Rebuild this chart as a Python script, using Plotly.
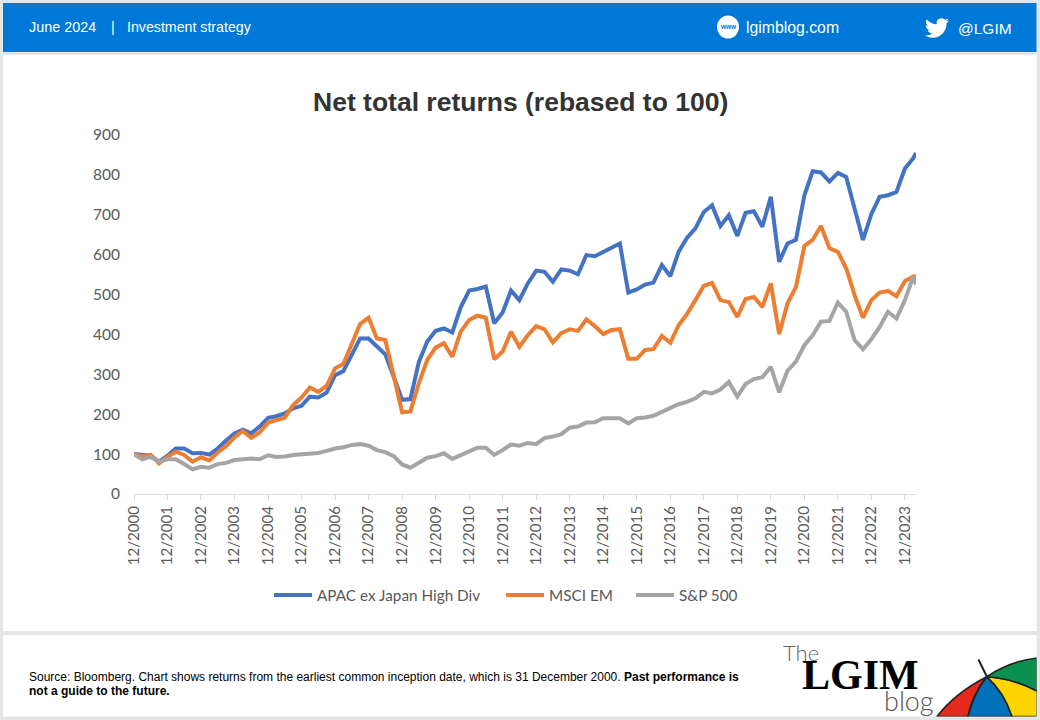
import base64
import plotly.graph_objects as go

W, H = 1040, 720

# Quarterly closes, 12/2000 onward, plus a final partial month
quarters = [f"{y}-{m}" for y in range(2000, 2024) for m in ("03-31", "06-30", "09-30", "12-31")][3:]
dates = quarters + ["2024-03-31", "2024-04-30"]

apac_high_div = [100, 98, 96, 81, 96, 114, 114, 102, 103, 99, 114, 134, 152, 161, 152, 169, 191, 195, 202, 215,
                 221, 244, 242, 254, 298, 308, 348, 390, 390, 369, 350, 294, 236, 238, 330, 382, 409, 415, 405, 468,
                 510, 514, 520, 428, 455, 510, 486, 528, 560, 557, 532, 563, 560, 551, 599, 596, 607, 617, 628, 505,
                 513, 525, 530, 574, 546, 607, 642, 666, 707, 724, 672, 699, 647, 705, 709, 670, 745, 582, 628, 637,
                 749, 809, 806, 783, 805, 795, 716, 637, 702, 745, 749, 757, 816, 842, 855]
msci_em = [100, 95, 98, 77, 93, 106, 98, 81, 92, 84, 104, 120, 142, 158, 141, 154, 179, 184, 191, 223,
           242, 267, 256, 271, 315, 326, 378, 426, 442, 390, 386, 298, 205, 207, 277, 336, 367, 378, 344, 407,
           436, 447, 442, 338, 357, 407, 369, 398, 421, 413, 380, 403, 413, 409, 438, 421, 401, 411, 413, 339,
           339, 361, 363, 396, 379, 423, 451, 486, 522, 529, 486, 481, 444, 489, 494, 469, 528, 401, 478, 519,
           622, 637, 672, 616, 607, 566, 499, 442, 486, 505, 509, 496, 534, 545, 547]
sp500 = [100, 87, 93, 81, 87, 87, 75, 62, 68, 66, 75, 78, 85, 88, 89, 87, 97, 93, 94, 98,
         100, 103, 103, 108, 114, 117, 123, 125, 121, 110, 105, 95, 74, 66, 78, 91, 95, 102, 88, 98,
         108, 116, 116, 98, 110, 124, 121, 128, 125, 140, 144, 150, 166, 169, 179, 180, 190, 190, 190, 177,
         190, 192, 196, 206, 215, 225, 231, 240, 256, 252, 262, 281, 244, 276, 288, 293, 319, 255, 309, 332,
         373, 398, 432, 434, 480, 457, 386, 363, 388, 419, 457, 440, 486, 545, 525]

series_names = ["APAC ex Japan High Div", "MSCI EM", "S&P 500"]
series_colors = ["#4472C4", "#ED7D31", "#A5A5A5"]
y_ticks = [0, 100, 200, 300, 400, 500, 600, 700, 800, 900]


def px_x(x):
    return x / W


def px_y(y):
    return 1 - y / H


fig = go.Figure()
legend_ids = ["legend", "legend2", "legend3"]
for name, values, color, lid in zip(series_names, [apac_high_div, msci_em, sp500], series_colors, legend_ids):
    fig.add_trace(go.Scatter(x=dates, y=values, name=name, mode="lines", legend=lid,
                             line=dict(color=color, width=4, shape="linear")))


def panel(x0, y0, x1, y1, color):
    return dict(type="rect", xref="paper", yref="paper", x0=px_x(x0), x1=px_x(x1), y0=px_y(y0), y1=px_y(y1),
                fillcolor=color, line_width=0, layer="below")


shapes = [
    panel(3, 3, 1036.5, 52, "#0078D7"),
    panel(3, 55, 1036.5, 631, "#FFFFFF"),
    panel(3, 635, 1036.5, 716.5, "#FFFFFF"),
    dict(type="circle", xref="paper", yref="paper", x0=px_x(717), x1=px_x(739), y0=px_y(38.5), y1=px_y(15.5),
         fillcolor="#FFFFFF", line_width=0, layer="above"),
]

bird = ("M23.953 4.57a10 10 0 01-2.825.775 4.958 4.958 0 002.163-2.723c-.951.555-2.005.959-3.127 1.184"
        "a4.92 4.92 0 00-8.384 4.482C7.69 8.095 4.067 6.13 1.64 3.162a4.822 4.822 0 00-.666 2.475"
        "c0 1.71.87 3.213 2.188 4.096a4.904 4.904 0 01-2.228-.616v.06a4.923 4.923 0 003.946 4.827"
        " 4.996 4.996 0 01-2.212.085 4.936 4.936 0 004.604 3.417 9.867 9.867 0 01-6.102 2.105"
        "c-.39 0-.779-.023-1.17-.067a13.995 13.995 0 007.557 2.209c9.053 0 13.998-7.496 13.998-13.985"
        " 0-.21 0-.42-.015-.63A9.935 9.935 0 0024 4.59z")
bird_svg = f'<svg xmlns="http://www.w3.org/2000/svg" viewBox="0 0 24 24"><path fill="#fff" d="{bird}"/></svg>'

umbrella_svg = """<svg xmlns="http://www.w3.org/2000/svg" viewBox="930 650 106.5 66.5">
<g stroke="#222" stroke-width="1.6" stroke-linejoin="round">
<path fill="#E52A1E" d="M937 716.5 Q955 693 986.7 676.7 Q972 695 968 716.5 Z"/>
<path fill="#0072BC" d="M986.7 676.7 Q973 695 968 716.5 L1012 716.5 Q1004 692 986.7 676.7 Z"/>
<path fill="#FFD500" d="M986.7 676.7 Q1004 692 1012 716.5 L1037 716.5 L1037 691 Q1012 678 986.7 676.7 Z"/>
<path fill="#0A904F" d="M986.7 676.7 Q1010 661 1037 658 L1037 691 Q1012 678 986.7 676.7 Z"/>
<path fill="none" stroke-width="2" d="M978.5 659.5 L987 677"/>
</g></svg>"""


def data_uri(svg):
    return "data:image/svg+xml;base64," + base64.b64encode(svg.encode()).decode()


images = [
    dict(source=data_uri(bird_svg), xref="paper", yref="paper", x=px_x(925), y=px_y(16), sizex=px_x(24), sizey=24 / H,
         xanchor="left", yanchor="top", sizing="stretch", layer="above"),
    dict(source=data_uri(umbrella_svg), xref="paper", yref="paper", x=px_x(930), y=px_y(650), sizex=px_x(106.5),
         sizey=66.5 / H, xanchor="left", yanchor="top", sizing="stretch", layer="above"),
]


def note(text, x, y, size, color="#FFFFFF", family="Liberation Sans", weight=None, anchor="left"):
    font = dict(family=family, size=size, color=color)
    if weight:
        font["weight"] = weight
    return dict(text=text, x=px_x(x), y=px_y(y), xref="paper", yref="paper", xanchor=anchor, yanchor="middle",
                showarrow=False, font=font, borderpad=0, borderwidth=0)


annotations = [
    note("June 2024", 29, 27.5, 14.4),
    note("|", 111, 27, 14),
    note("Investment strategy", 127, 27.5, 14.2),
    note("lgimblog.com", 746, 28, 15.8),
    note("<b>www</b>", 728, 27, 6.5, color="#0078D7", anchor="center"),
    note("@LGIM", 958, 28.5, 15.5),
    note("<b>Net total returns (rebased to 100)</b>", 520, 102, 26.5, color="#333333", anchor="center"),
    note("Source: Bloomberg. Chart shows returns from the earliest common inception date, which is 31 December 2000. "
         "<b>Past performance is</b>", 29, 676.5, 12, color="#000000"),
    note("<b>not a guide to the future.</b>", 29, 690.5, 12, color="#000000"),
    note("The", 783, 652, 22, color="#666666", family="Lato", weight=300),
    note("<b>LGIM</b>", 802, 675, 42, color="#000000", family="Liberation Serif"),
    note("blog", 884, 700, 27, color="#555555", family="Lato", weight=300),
]


def legend_at(x):
    return dict(orientation="h", x=px_x(x), y=px_y(595), xanchor="left", yanchor="middle",
                font=dict(family="Lato", size=15.3, color="#595959"), itemwidth=38, bgcolor="rgba(0,0,0,0)")


fig.update_layout(
    width=W, height=H, autosize=False,
    margin=dict(l=0, r=0, t=0, b=0, pad=0),
    paper_bgcolor="#E6E6E6", plot_bgcolor="rgba(0,0,0,0)",
    showlegend=True,
    legend=legend_at(269), legend2=legend_at(501), legend3=legend_at(631),
    xaxis=dict(type="date", domain=[px_x(134), px_x(916)], range=["2000-12-31", "2024-04-30"], automargin=False,
               tick0="2000-12-31", dtick="M12", tickformat="%m/%Y", tickangle=-90,
               showgrid=False, zeroline=False, showline=True, linecolor="#D9D9D9", linewidth=1.3,
               ticks="outside", ticklen=5, tickcolor="#D9D9D9", tickwidth=1.3,
               tickfont=dict(family="Lato", size=15, color="#595959")),
    yaxis=dict(domain=[px_y(494), px_y(135)], range=[0, 900], tickvals=y_ticks, showgrid=False, zeroline=False,
               showline=False, ticks="", ticklabelstandoff=13, automargin=False,
               tickfont=dict(family="Lato", size=15.5, color="#595959")),
    shapes=shapes, images=images, annotations=annotations,
)

fig.write_html("out.html", config={"displayModeBar": False},
               post_script="document.body.style.margin='0';document.body.style.overflow='hidden';")
